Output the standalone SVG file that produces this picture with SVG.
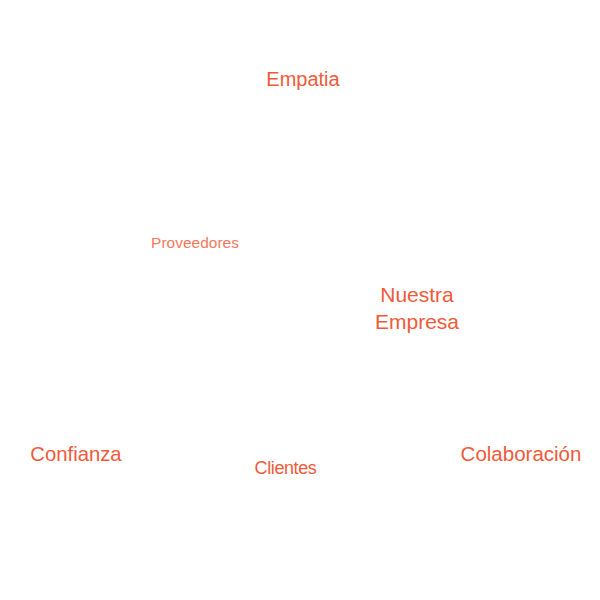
<svg xmlns="http://www.w3.org/2000/svg" width="600" height="600" viewBox="0 0 600 600">
<style>
.t{font-family:"Liberation Sans",Arial,sans-serif;fill:#f05a3a;text-anchor:middle}
.s{fill:#f2785c}
</style>
<rect width="600" height="600" fill="#fff"/>
<g id="empatia"><text class="t" x="303" y="86" font-size="20">Empatia</text></g>
<g id="proveedores"><text class="t s" x="195" y="248" font-size="15.5">Proveedores</text></g>
<g id="nuestra-empresa"><text class="t" x="417" y="302" font-size="21">Nuestra</text><text class="t" x="417" y="329" font-size="21">Empresa</text></g>
<g id="confianza"><text class="t" x="76" y="461" font-size="20.3">Confianza</text></g>
<g id="clientes"><text class="t" x="285.5" y="474" font-size="18" letter-spacing="-0.4">Clientes</text></g>
<g id="colaboracion"><text class="t" x="521" y="461" font-size="20.5">Colaboración</text></g>
<g id="connectors"></g>
</svg>
